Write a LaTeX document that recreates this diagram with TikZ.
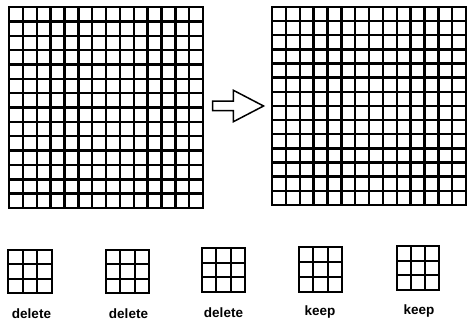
\documentclass[tikz,border=0pt]{standalone}
\usepackage{fontspec}
\setsansfont{Liberation Sans}
\usepackage{tikz}
\usetikzlibrary{shapes.arrows,positioning}

\tikzset{
  gridline/.style={line width=2.4pt, line cap=rect},
  cellline/.style={line width=2.2pt, line cap=rect},
  verdict/.style={font=\sffamily\bfseries\fontsize{13.5}{14}\selectfont,
                  inner sep=0pt, anchor=base},
  fatarrow/.style={draw, line width=1.5pt, single arrow, inner xsep=0pt,
                   inner ysep=4pt, single arrow head extend=11pt,
                   single arrow tip angle=55, minimum height=51pt},
}

\begin{document}
\begin{tikzpicture}[x=1pt,y=-1pt]
  \useasboundingbox (0,0) rectangle (468,320);

  % left field, 14 x 14
  \foreach \i in {0,...,14} {
    \draw[gridline] ({9+\i*13.86},7) -- ({9+\i*13.86},208);
    \draw[gridline] (9,{7+\i*14.36}) -- (203,{7+\i*14.36});
  }

  % right field, 14 x 14
  \foreach \i in {0,...,14} {
    \draw[gridline] ({272+\i*13.86},7) -- ({272+\i*13.86},205);
    \draw[gridline] (272,{7+\i*14.14}) -- (466,{7+\i*14.14});
  }

  \node[fatarrow] (arr) at (233.5,106) {};

  % 3 x 3 neighbourhoods
  \foreach \x/\y/\w/\h in {8/250/44/43, 106/250/43/43, 202/248/43/44,
                           299/247/43/45, 397/246/42/44} {
    \foreach \k in {0,...,3} {
      \draw[cellline] ({\x+\k*\w/3},\y) -- ({\x+\k*\w/3},{\y+\h});
      \draw[cellline] (\x,{\y+\k*\h/3}) -- ({\x+\w},{\y+\k*\h/3});
    }
  }

  \node[verdict] (d1) at (31.5,318) {delete};
  \node[verdict] (d2) at (128.5,318) {delete};
  \node[verdict] (d3) at (223.5,317) {delete};
  \node[verdict] (k1) at (320,315) {keep};
  \node[verdict] (k2) at (419,314) {keep};
\end{tikzpicture}
\end{document}
